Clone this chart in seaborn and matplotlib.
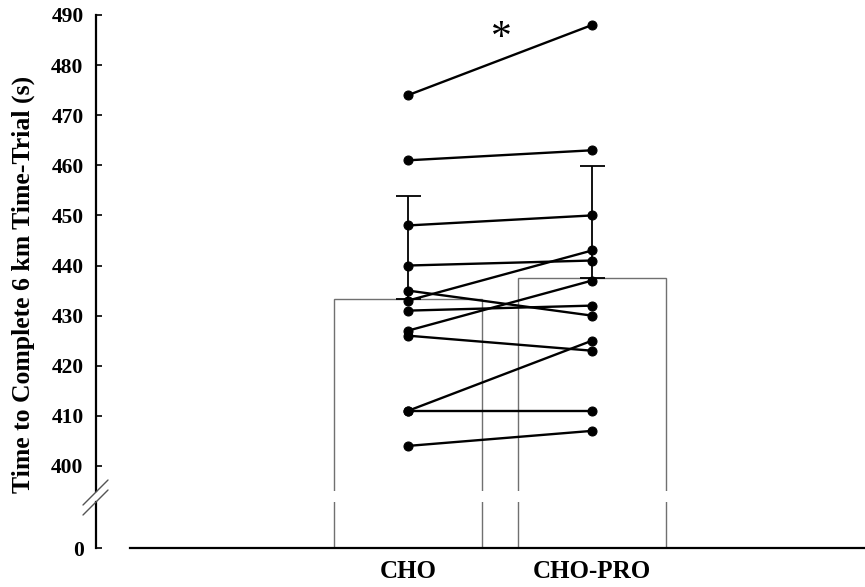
import numpy as np
import pandas as pd
import seaborn as sns
import matplotlib.pyplot as plt

# Datos por sujeto (s)
conditions = ['CHO', 'CHO-PRO']
cho = [474, 461, 448, 440, 435, 433, 431, 427, 426, 411, 411, 404]
cho_pro = [488, 463, 450, 441, 430, 443, 432, 437, 423, 425, 411, 407]
yticks_top = [400, 410, 420, 430, 440, 450, 460, 470, 480, 490]

n = len(cho)
df = pd.DataFrame({
    'subject': list(range(n)) * 2,
    'cond': [conditions[0]] * n + [conditions[1]] * n,
    'time': cho + cho_pro,
})
stats = df.groupby('cond', sort=False)['time'].agg(['mean', 'std'])

sns.set_style('ticks', {'text.color': 'black', 'axes.edgecolor': 'black',
                        'xtick.color': 'black', 'ytick.color': 'black',
                        'axes.labelcolor': 'black'})
plt.rcParams['font.family'] = ['Liberation Serif', 'DejaVu Serif']
plt.rcParams['font.weight'] = 'bold'

W, H = 865, 587
fig = plt.figure(figsize=(W / 100, H / 100), dpi=100)

# eje superior (395-490) y eje inferior (0) con corte
ax = fig.add_axes([96 / W, 1 - 491 / H, 769 / W, 476 / H])
axb = fig.add_axes([96 / W, 1 - 548 / H, 769 / W, 46 / H])

xlim = (-1.696, 2.484)

for a in (ax, axb):
    sns.barplot(data=df, x='cond', y='time', order=conditions, errorbar=None,
                color='white', edgecolor='#707070', linewidth=1.0, width=0.8, ax=a)
    a.set_xlim(*xlim)
    a.set_xlabel('')
    a.set_ylabel('')
    for s in ('top', 'right'):
        a.spines[s].set_visible(False)
    a.spines['left'].set_linewidth(1.6)
    a.tick_params(axis='y', direction='in', length=4, width=1.2, pad=9,
                  labelsize=15.5, colors='black')

# barras de error (solo hacia arriba)
ax.errorbar(x=[0, 1], y=stats['mean'].values,
            yerr=[np.zeros(2), stats['std'].values],
            fmt='none', ecolor='black', elinewidth=1.3, capsize=9, capthick=1.3,
            zorder=3)

# líneas de cada sujeto
sns.lineplot(data=df, x='cond', y='time', units='subject', estimator=None,
             color='black', linewidth=1.7, marker='o', markersize=6.5,
             markeredgecolor='black', legend=False, ax=ax, zorder=4)

ax.set_ylim(395, 490)
ax.set_yticks(yticks_top)
ax.set_yticklabels([str(t) for t in yticks_top], fontweight='bold')
ax.spines['bottom'].set_visible(False)
ax.tick_params(axis='x', bottom=False, labelbottom=False)
ax.set_xlim(*xlim)
ax.set_xlabel('')
ax.set_ylabel('')

axb.set_ylim(0, 9.2)
axb.set_yticks([0])
axb.set_yticklabels(['0'], fontweight='bold')
axb.spines['bottom'].set_linewidth(1.6)
axb.spines['bottom'].set_bounds(-1.511, xlim[1])
axb.tick_params(axis='x', bottom=False, pad=5, labelsize=18, colors='black')
for lab in axb.get_xticklabels():
    lab.set_fontweight('bold')

# asterisco
ax.text(0.51, 485.3, '*', ha='center', va='center', fontsize=30,
        fontweight='normal', color='black')

# marcas de corte del eje
for y0 in (480, 490):
    fig.add_artist(plt.Line2D([83 / W, 108 / W], [1 - (y0 + 25) / H, 1 - y0 / H],
                              color='#555555', lw=1.0))

fig.text(23 / W, 1 - 284 / H, 'Time to Complete 6 km Time-Trial (s)',
         rotation=90, ha='center', va='center', fontsize=18.5,
         fontweight='bold', color='black')

fig.savefig('out.png', dpi=100)
